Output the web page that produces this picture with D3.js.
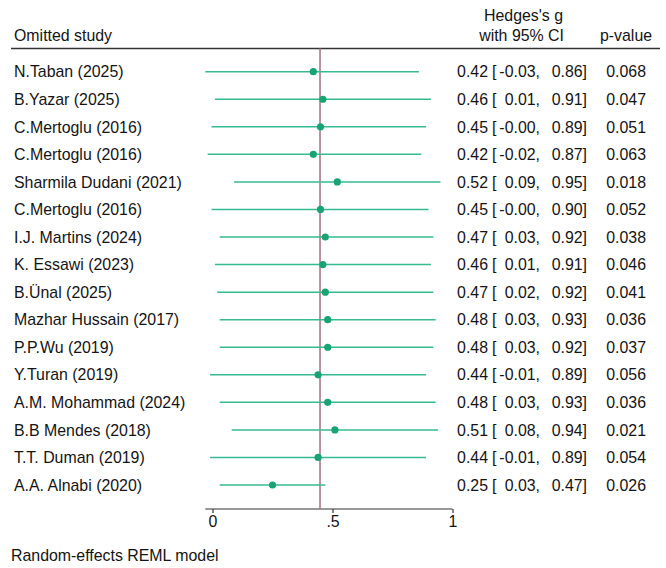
<!DOCTYPE html>
<html>
<head>
<meta charset="utf-8">
<script src="https://cdn.jsdelivr.net/npm/d3@7"></script>
<style>
  body { margin: 0; background: #fff; }
  text { font-family: "Liberation Sans", Arial, sans-serif; fill: #141414; }
</style>
</head>
<body>
<svg width="666" height="568"></svg>
<script>
var studies = ["N.Taban (2025)", "B.Yazar (2025)", "C.Mertoglu (2016)", "C.Mertoglu (2016)",
  "Sharmila Dudani (2021)", "C.Mertoglu (2016)", "I.J. Martins (2024)", "K. Essawi (2023)",
  "B.Ünal (2025)", "Mazhar Hussain (2017)", "P.P.Wu (2019)", "Y.Turan (2019)",
  "A.M. Mohammad (2024)", "B.B Mendes (2018)", "T.T. Duman (2019)", "A.A. Alnabi (2020)"];
var est   = [0.42, 0.46, 0.45, 0.42, 0.52, 0.45, 0.47, 0.46, 0.47, 0.48, 0.48, 0.44, 0.48, 0.51, 0.44, 0.25];
var lower = [-0.03, 0.01, -0.004, -0.02, 0.09, -0.004, 0.03, 0.01, 0.02, 0.03, 0.03, -0.01, 0.03, 0.08, -0.01, 0.03];
var upper = [0.86, 0.91, 0.89, 0.87, 0.95, 0.90, 0.92, 0.91, 0.92, 0.93, 0.92, 0.89, 0.93, 0.94, 0.89, 0.47];
var pvals = ["0.068", "0.047", "0.051", "0.063", "0.018", "0.052", "0.038", "0.046",
  "0.041", "0.036", "0.037", "0.056", "0.036", "0.021", "0.054", "0.026"];
var overall = 0.448;
var xTicks = [0, 0.5, 1];
var xTickLabels = ["0", ".5", "1"];

var svg = d3.select("svg");
var fs = "15.9px";

var x = d3.scaleLinear().domain([0, 1]).range([212.5, 452.5]);
var y = d3.scalePoint().domain(d3.range(studies.length)).range([71.7, 485]);

var rows = studies.map(function(s, i) {
  return {name: s, est: est[i], lo: lower[i], hi: upper[i], p: pvals[i], i: i};
});

// header
svg.append("text").attr("x", 14).attr("y", 41).style("font-size", fs).text("Omitted study");
svg.append("text").attr("x", 563).attr("y", 20.5).attr("text-anchor", "end").style("font-size", fs).text("Hedges's g");
svg.append("text").attr("x", 564).attr("y", 41).attr("text-anchor", "end").style("font-size", fs).text("with 95% CI");
svg.append("text").attr("x", 626).attr("y", 41).attr("text-anchor", "middle").style("font-size", fs).text("p-value");
svg.append("line").attr("x1", 11).attr("x2", 660).attr("y1", 48.5).attr("y2", 48.5)
  .attr("stroke", "#333").attr("stroke-width", 1.4);

// axis
var lo = d3.min(lower);
var axis = d3.axisBottom(x).tickValues(xTicks).tickSize(4)
  .tickFormat(function(d, i) { return xTickLabels[i]; });
var ag = svg.append("g").attr("transform", "translate(0,509)").call(axis);
ag.select(".domain").remove();
ag.append("line").attr("x1", x(lo)).attr("x2", x(1)).attr("stroke", "#333").attr("stroke-width", 1.2);
ag.selectAll(".tick line").attr("stroke", "#333").attr("stroke-width", 1.2);
ag.selectAll(".tick text").attr("y", 7).style("font-size", fs)
  .style("font-family", "Liberation Sans, Arial, sans-serif").attr("fill", "#141414");

// overall line
svg.append("line").attr("x1", x(overall)).attr("x2", x(overall)).attr("y1", 48.5).attr("y2", 509)
  .attr("stroke", "#a5707f").attr("stroke-width", 1.5);

var g = svg.selectAll("g.row").data(rows).enter().append("g").attr("class", "row");

g.append("line")
  .attr("x1", function(d) { return x(d.lo); })
  .attr("x2", function(d) { return x(d.hi); })
  .attr("y1", function(d) { return y(d.i); })
  .attr("y2", function(d) { return y(d.i); })
  .attr("stroke", "#34bb92").attr("stroke-width", 1.5);

g.append("circle")
  .attr("cx", function(d) { return x(d.est); })
  .attr("cy", function(d) { return y(d.i); })
  .attr("r", 3.6).attr("fill", "#17a472");

g.append("text").attr("x", 14).attr("y", function(d) { return y(d.i) + 5.7; })
  .style("font-size", fs).text(function(d) { return d.name; });

g.append("text").attr("x", 488).attr("y", function(d) { return y(d.i) + 5.7; })
  .attr("text-anchor", "end").style("font-size", fs)
  .text(function(d) { return d.est.toFixed(2); });
g.append("text").attr("x", 492).attr("y", function(d) { return y(d.i) + 5.7; })
  .style("font-size", fs).text("[");
g.append("text").attr("x", 540).attr("y", function(d) { return y(d.i) + 5.7; })
  .attr("text-anchor", "end").style("font-size", fs)
  .text(function(d) { return d.lo.toFixed(2) + ","; });
g.append("text").attr("x", 587).attr("y", function(d) { return y(d.i) + 5.7; })
  .attr("text-anchor", "end").style("font-size", fs)
  .text(function(d) { return d.hi.toFixed(2) + "]"; });
g.append("text").attr("x", 646).attr("y", function(d) { return y(d.i) + 5.7; })
  .attr("text-anchor", "end").style("font-size", fs)
  .text(function(d) { return d.p; });

// footer
svg.append("text").attr("x", 11).attr("y", 561).style("font-size", fs).text("Random-effects REML model");
</script>
</body>
</html>
